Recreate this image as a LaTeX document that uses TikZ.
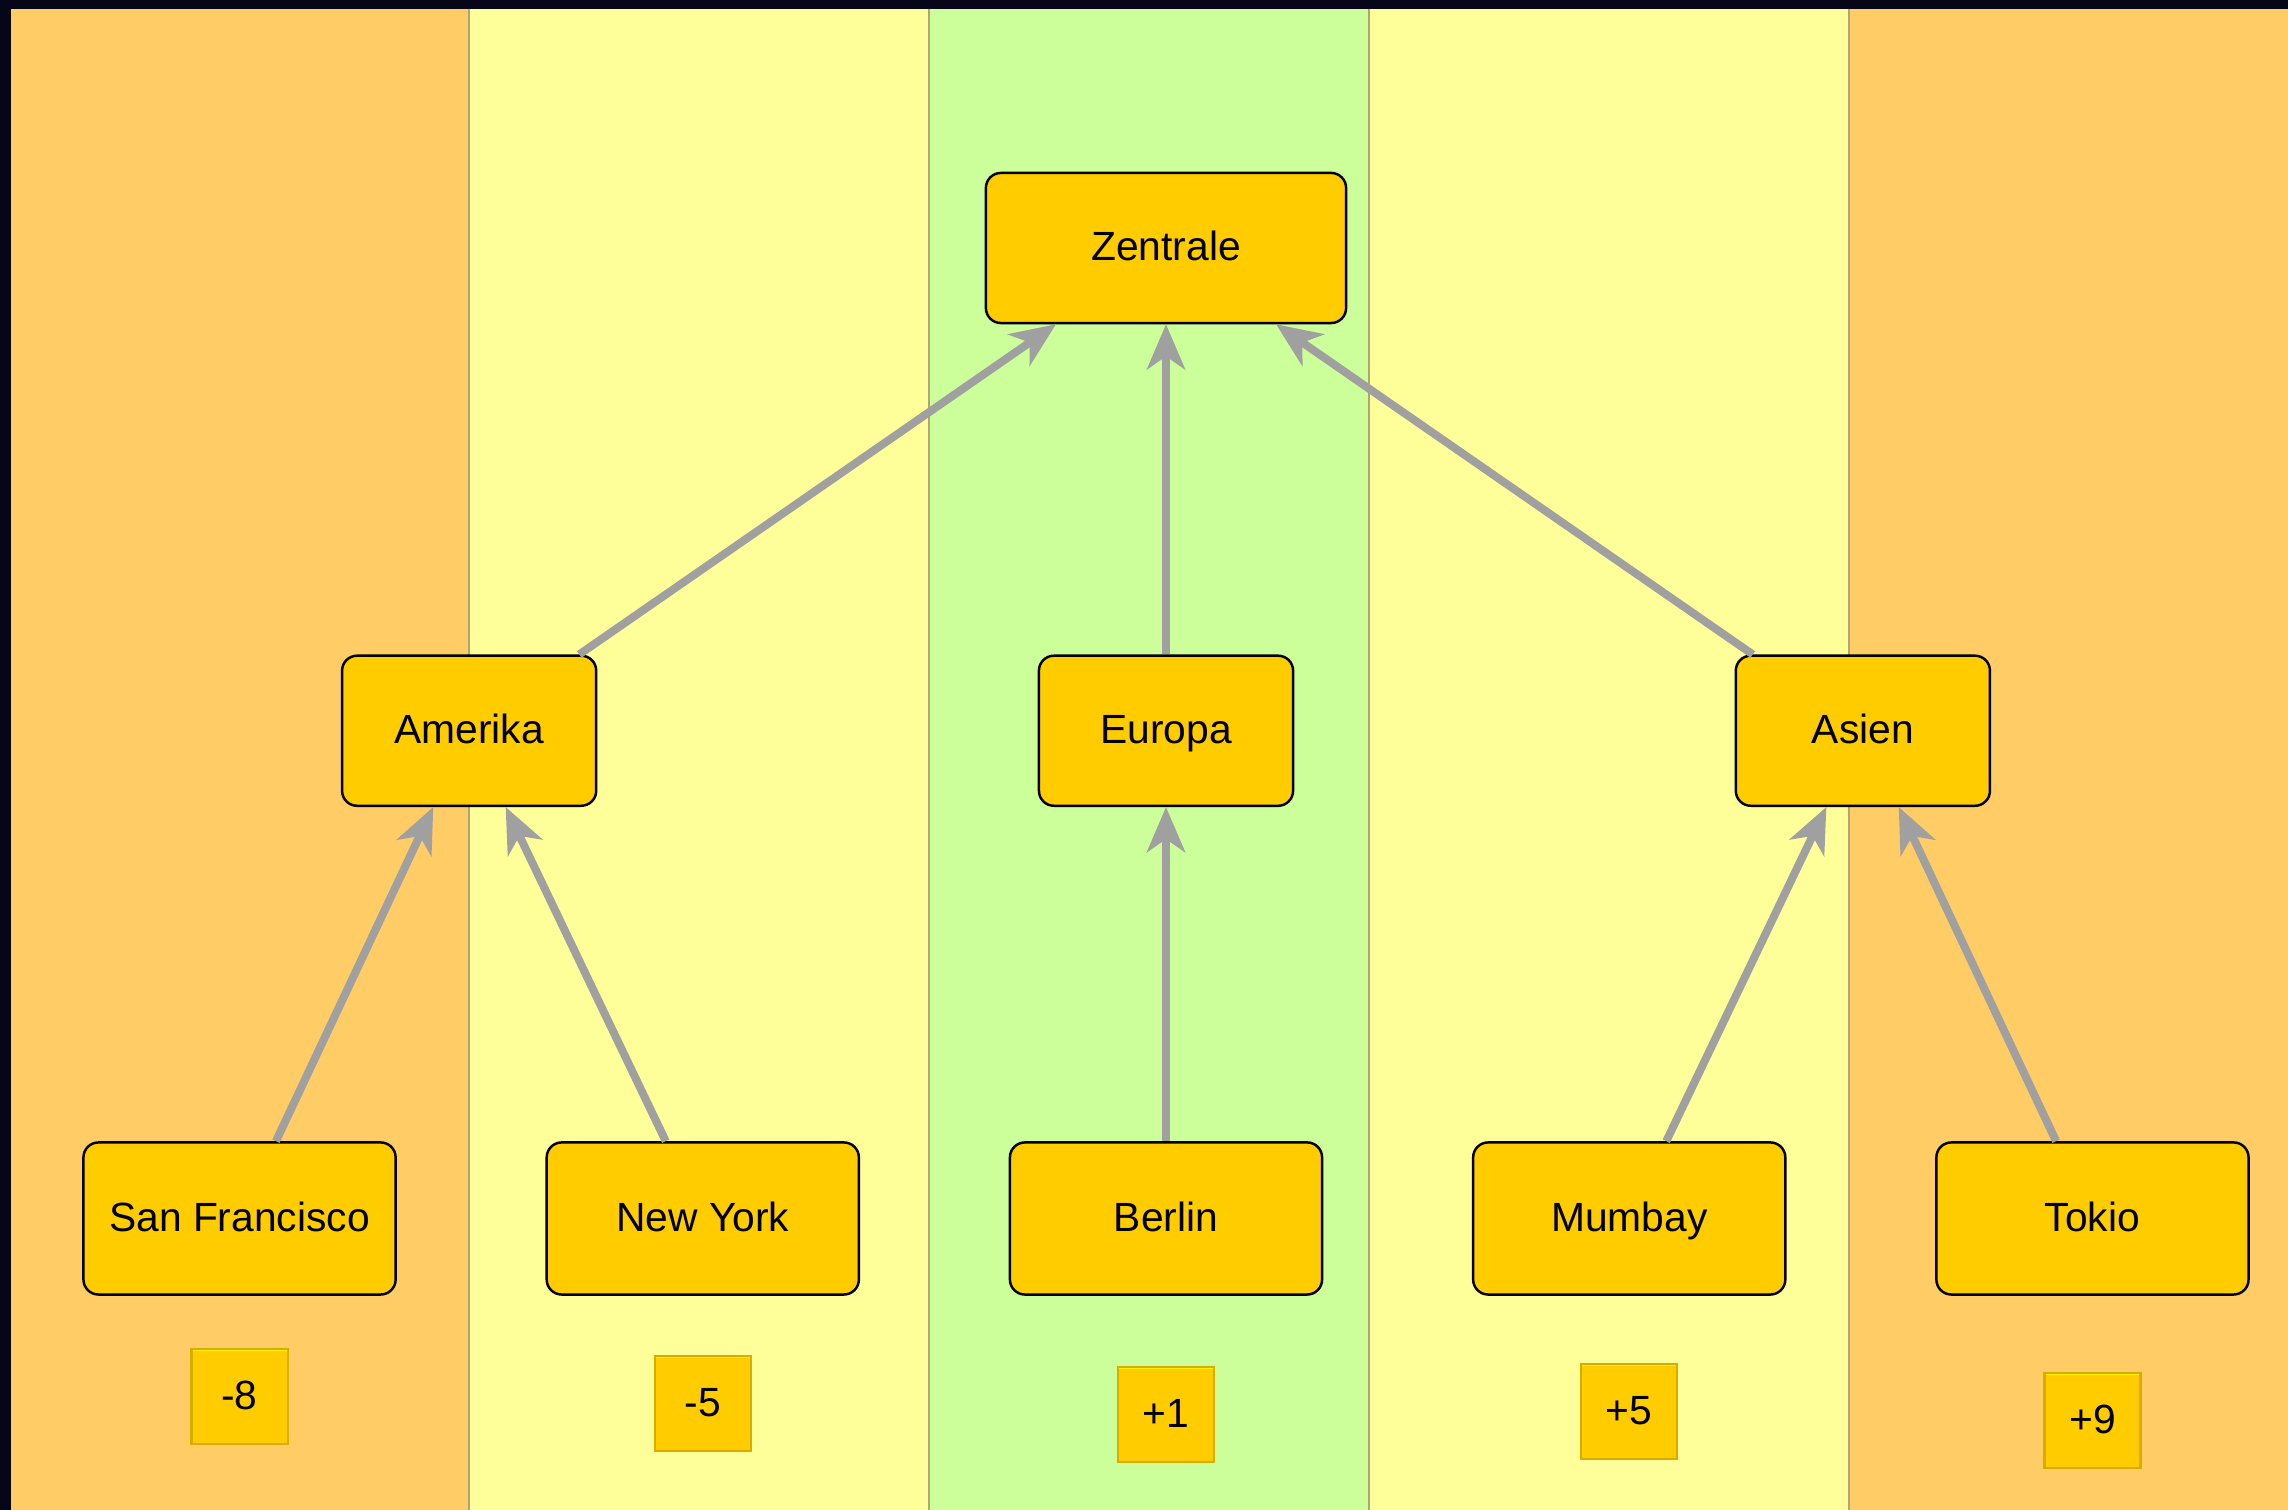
\documentclass[tikz,border=0pt]{standalone}
\usepackage{fontspec}
\setmainfont{Liberation Sans}
\usetikzlibrary{positioning}
\usetikzlibrary {arrows.meta}
\definecolor{laneorange}{RGB}{255,204,102}
\definecolor{laneyellow}{RGB}{255,255,153}
\definecolor{lanegreen}{RGB}{204,255,153}
\definecolor{boxgold}{RGB}{255,204,0}
\definecolor{edgegray}{RGB}{160,160,160}
\definecolor{frame}{RGB}{6,6,24}
\definecolor{lanerule}{RGB}{175,165,115}
\tikzset{orgbox/.style={rectangle,rounded corners=0.15cm,draw=black,fill=boxgold,
line width=0.7pt,inner sep=0pt,minimum height=1.5cm,minimum width=2.54cm,
text height=1.83ex,text depth=0.45ex,
font=\fontsize{11.6pt}{14pt}\selectfont}}
\tikzset{orgboxwide/.style={orgbox,minimum height=1.52cm,minimum width=3.12cm}}
\tikzset{offsetbox/.style={rectangle,draw=boxgold!85!black,fill=boxgold,
line width=0.6pt,inner sep=0pt,minimum height=0.95cm,minimum width=0.96cm,
text height=1.83ex,text depth=0.45ex,
path picture={\draw[yellow,line width=1.2pt] (path picture bounding box.north west)
-- (path picture bounding box.north east);},
font=\fontsize{11.6pt}{14pt}\selectfont}}
\tikzset{orgedge/.style={draw=edgegray,line width=0.08cm,
-{Stealth[length=0.45cm,width=0.38cm,inset=0.13cm]}}}

\begin{document}
\begin{tikzpicture}[x=0.01cm,y=-0.01cm]
    \useasboundingbox (0,0) rectangle (2288,1510);

    % lanes
    \fill[frame] (0,0) rectangle (2288,1510);
    \fill[laneorange] (11,9) rectangle (469,1510);
    \fill[laneyellow] (469,9) rectangle (929,1510);
    \fill[lanegreen] (929,9) rectangle (1369,1510);
    \fill[laneyellow] (1369,9) rectangle (1849,1510);
    \fill[laneorange] (1849,9) rectangle (2288,1510);
    \foreach \x in {469,929,1369,1849}
        \draw[lanerule,line width=0.6pt] (\x,9) -- (\x,1510);

    \node[orgbox,minimum width=3.6cm] (zentrale) at (1166,248) {Zentrale};

    \node[orgbox] (europa) [below=3.30cm of zentrale] {Europa};
    \node[orgbox] (amerika) [left=4.40cm of europa] {Amerika};
    \node[orgbox] (asien) [right=4.40cm of europa] {Asien};

    \node[orgboxwide] (berlin) [below=3.34cm of europa] {Berlin};
    \node[orgboxwide] (newyork) [left=1.485cm of berlin] {New York};
    \node[orgboxwide] (sanfrancisco) [left=1.485cm of newyork] {San Francisco};
    \node[orgboxwide] (mumbay) [right=1.485cm of berlin] {Mumbay};
    \node[orgboxwide] (tokio) [right=1.485cm of mumbay] {Tokio};

    \node[offsetbox] (sanfranciscooff) [below=0.52cm of sanfrancisco] {-8};
    \node[offsetbox] (newyorkoff) [below=0.59cm of newyork] {-5};
    \node[offsetbox] (berlinoff) [below=0.70cm of berlin] {+1};
    \node[offsetbox] (mumbayoff) [below=0.67cm of mumbay] {+5};
    \node[offsetbox] (tokiooff) [below=0.76cm of tokio] {+9};

    \draw[orgedge] (amerika) -- (zentrale);
    \draw[orgedge] (europa) -- (zentrale);
    \draw[orgedge] (asien) -- (zentrale);
    \draw[orgedge] (sanfrancisco) -- (amerika);
    \draw[orgedge] (newyork) -- (amerika);
    \draw[orgedge] (berlin) -- (europa);
    \draw[orgedge] (mumbay) -- (asien);
    \draw[orgedge] (tokio) -- (asien);

\end{tikzpicture}
\end{document}
